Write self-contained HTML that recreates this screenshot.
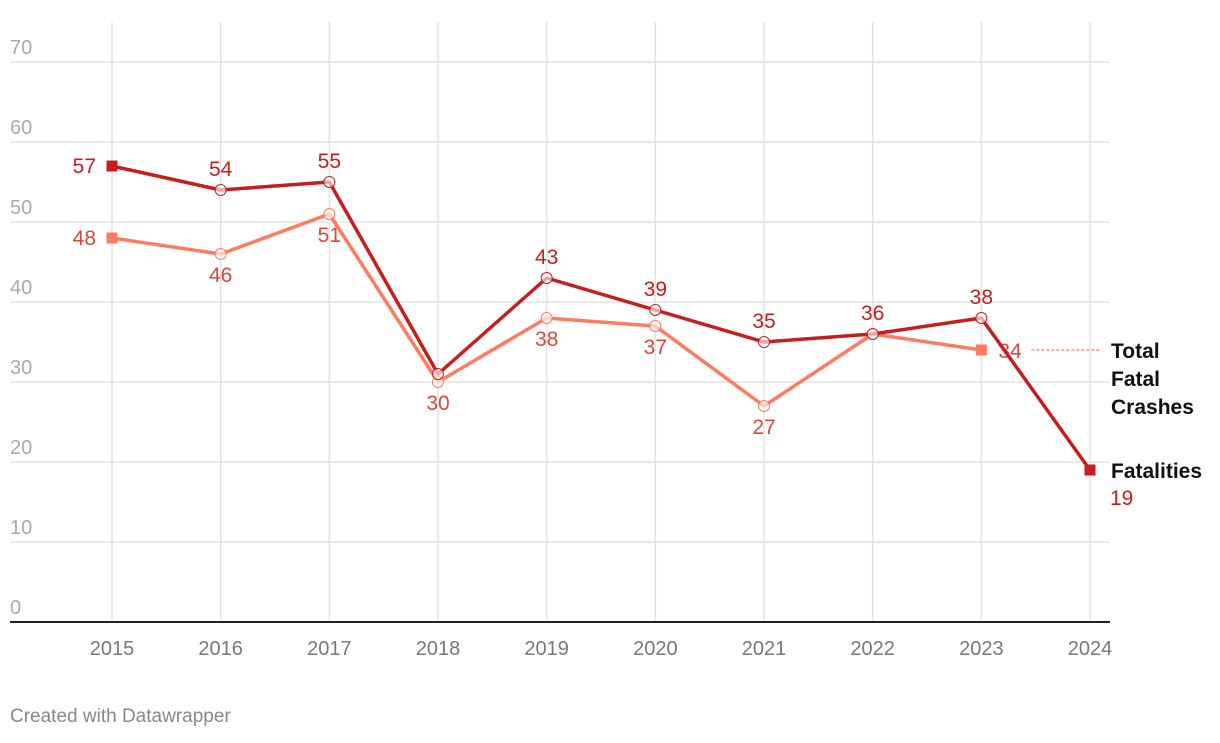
<!DOCTYPE html>
<html><head><meta charset="utf-8"><style>
body{margin:0;background:#fff;font-family:"Liberation Sans",Arial,sans-serif}
svg text{font-family:"Liberation Sans",Arial,sans-serif}
</style></head><body>
<svg id="chart" width="1220" height="738" xmlns="http://www.w3.org/2000/svg">
<g id="grid"></g>
<g id="series"></g>
<text x="10" y="722" font-size="19" fill="#888">Created with Datawrapper</text>
</svg>
<script>
const years=[2015,2016,2017,2018,2019,2020,2021,2022,2023,2024];
const fatalities=[57,54,55,31,43,39,35,36,38,19];
const crashes=[48,46,51,30,38,37,27,36,34,null];
const yTicks=[0,10,20,30,40,50,60,70];
const fatalLabelShown=[true,true,true,false,true,true,true,true,true,true];
const crashLabelShown=[true,true,true,true,true,true,true,false,true,false];
const NS="http://www.w3.org/2000/svg";
const x=i=>112+i*(1090-112)/(years.length-1);
const y=v=>622-v*8;
function el(t,a,p){const e=document.createElementNS(NS,t);for(const k in a)e.setAttribute(k,a[k]);p.appendChild(e);return e;}
const grid=document.getElementById('grid'),S=document.getElementById('series');
yTicks.forEach(v=>{
 if(v>0){const l=el('line',{x1:10,x2:1110,y1:y(v),y2:y(v),stroke:'#e3e3e3','stroke-width':1.5},grid);
 }
 const t=el('text',{x:10,y:y(v)-8,'font-size':20,fill:'#aaa'},grid);t.textContent=v;
 
});
years.forEach((yr,i)=>{
 const l=el('line',{x1:x(i),x2:x(i),y1:22,y2:622,stroke:'#e3e3e3','stroke-width':1.5},grid);
 
 const t=el('text',{x:x(i),y:655,'font-size':20,fill:'#777','text-anchor':'middle'},grid);t.textContent=yr;
 
});
const b=el('line',{x1:10,x2:1110,y1:622,y2:622,stroke:'#222','stroke-width':2},grid);

function drawSeries(vals,color,lblColor,name,shown,above){
 const pts=[];vals.forEach((v,i)=>{if(v!=null)pts.push([i,v]);});
 const p=el('polyline',{points:pts.map(([i,v])=>x(i)+','+y(v)).join(' '),fill:'none',stroke:color,'stroke-width':3.5,'stroke-linejoin':'round'},S);
 
 const last=pts[pts.length-1][0];
 pts.forEach(([i,v])=>{
  let m;
  if(i===0||i===last){m=el('rect',{x:x(i)-5.5,y:y(v)-5.5,width:11,height:11,fill:color},S);}
  else{m=el('circle',{cx:x(i),cy:y(v),r:5.5,fill:'#fff','fill-opacity':0.6,stroke:color,'stroke-width':1},S);}
  
  if(!shown[i])return;
  let tx=x(i),ty=above?y(v)-14:y(v)+28,anc='middle';
  if(i===0){tx=x(i)-16;ty=y(v)+7;anc='end';}
  if(name==='crashes'&&i===last){tx=x(i)+17;ty=y(v)+8;anc='start';}
  if(name==='fatalities'&&i===last){tx=x(i)+20;ty=y(v)+35;anc='start';}
  const t=el('text',{x:tx,y:ty,'font-size':21,fill:lblColor,'text-anchor':anc},S);t.textContent=v;
  
 });
}
drawSeries(crashes,'#ff7b5f','#d9473a','crashes',crashLabelShown,false);
drawSeries(fatalities,'#c71e1d','#c71e1d','fatalities',fatalLabelShown,true);
const ci=8;
const d=el('line',{x1:x(ci)+50,x2:1100,y1:y(crashes[ci]),y2:y(crashes[ci]),stroke:'#ff7b5f','stroke-width':1.2,'stroke-dasharray':'3,2'},S);

[['Total',y(crashes[ci])+8],['Fatal',y(crashes[ci])+36],['Crashes',y(crashes[ci])+64]].forEach(([s,yy])=>{
 const t=el('text',{x:1111,y:yy,'font-size':21,'font-weight':'bold',fill:'#111'},S);t.textContent=s;
 
});
const f=el('text',{x:1111,y:y(fatalities[9])+8,'font-size':21,'font-weight':'bold',fill:'#111'},S);f.textContent='Fatalities';

</script>
</body></html>
